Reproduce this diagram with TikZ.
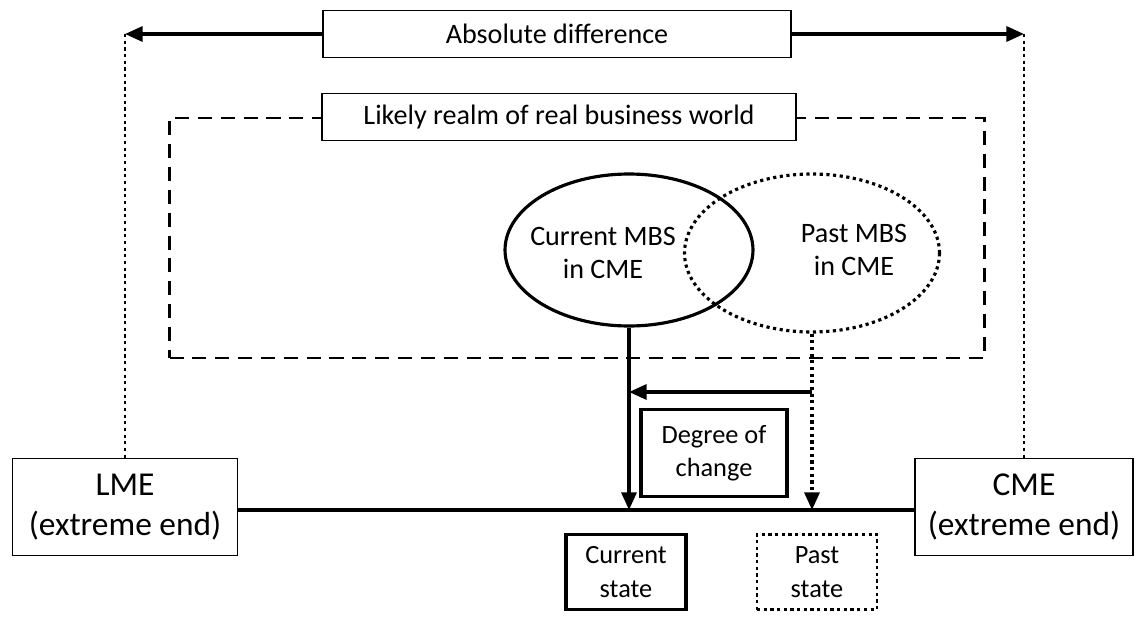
\documentclass[tikz,border=0pt]{standalone}
\usepackage{fontspec}
\setmainfont{Carlito}
\usepackage{tikz}
\usetikzlibrary{positioning, arrows.meta, shapes.geometric, calc}

\begin{document}
\begin{tikzpicture}[
  x=0.02cm, y=-0.02cm,
  box/.style={draw, line width=0.9pt, align=center, font=\fontsize{16}{19}\selectfont},
  endbox/.style={draw, line width=0.9pt, align=center, minimum width=4.5cm,
                 minimum height=1.94cm, font=\fontsize{19}{23}\selectfont},
  statebox/.style={draw, line width=1.8pt, align=center, minimum width=2.4cm,
                   minimum height=1.5cm, font=\fontsize{15}{19}\selectfont},
  mbs/.style={ellipse, draw, line width=1.8pt},
  mbstext/.style={align=center, font=\fontsize{16}{19}\selectfont},
  dots/.style={dash pattern=on 1.8pt off 2pt},
  flow/.style={line width=1.9pt, -{Triangle[length=10pt,width=8.5pt]}},
]
  \useasboundingbox (0,0) rectangle (1143,619);

  % realm of the business world
  \node[draw, line width=1.5pt, dash pattern=on 8pt off 5pt,
        minimum width=16.3cm, minimum height=4.8cm] (realm) at (577,238) {};
  \node[box, fill=white, minimum width=9.48cm, minimum height=0.94cm]
    (realmlabel) at (559,117) {Likely realm of real business world};

  \node[box, minimum width=9.36cm, minimum height=0.94cm]
    (absdiff) at (557,34) {Absolute difference};

  \node[endbox] (lme) at (125,507) {LME\\(extreme end)};
  \node[endbox, minimum width=4.36cm] (cme) at (1024,507) {CME\\(extreme end)};

  \node[mbs, minimum width=4.96cm, minimum height=3.04cm] (cur) at (629,250) {};
  \node[mbs, dots, minimum width=5.1cm, minimum height=3.16cm] (past) at (812,253) {};
  \node[mbstext] (curtext) at (603,253) {Current MBS\\in CME};
  \node[mbstext] (pasttext) at (854,250) {Past MBS\\in CME};

  \node[statebox, minimum width=2.92cm, minimum height=1.74cm]
    (degree) at (714,453) {Degree of\\change};
  \node[statebox] (curstate) at (626,572) {Current\\state};
  \node[statebox, dots, line width=1.5pt] (paststate) at (817,572) {Past\\state};

  \coordinate (lmetop) at (lme.north |- absdiff);
  \coordinate (cmetop) at (cme.north |- absdiff);
  \coordinate (curline) at (cur.south |- 0,510);
  \coordinate (pastline) at (past.south |- 0,510);
  \coordinate (pastturn) at (past.south |- 0,392);
  \coordinate (curturn) at (cur.south |- 0,392);

  \draw[flow] (absdiff.west) -- (lmetop);
  \draw[flow] (absdiff.east) -- (cmetop);
  \draw[line width=1.5pt, dots] (lmetop) -- (lme.north);
  \draw[line width=1.5pt, dots] (cmetop) -- (cme.north);

  \draw[line width=1.9pt] (lme.east |- curline) -- (cme.west |- curline);
  \draw[flow] (cur.south) -- (curline);
  \draw[flow, dots] (past.south) -- (pastline);
  \draw[flow] (pastturn) -- (curturn);
\end{tikzpicture}
\end{document}
